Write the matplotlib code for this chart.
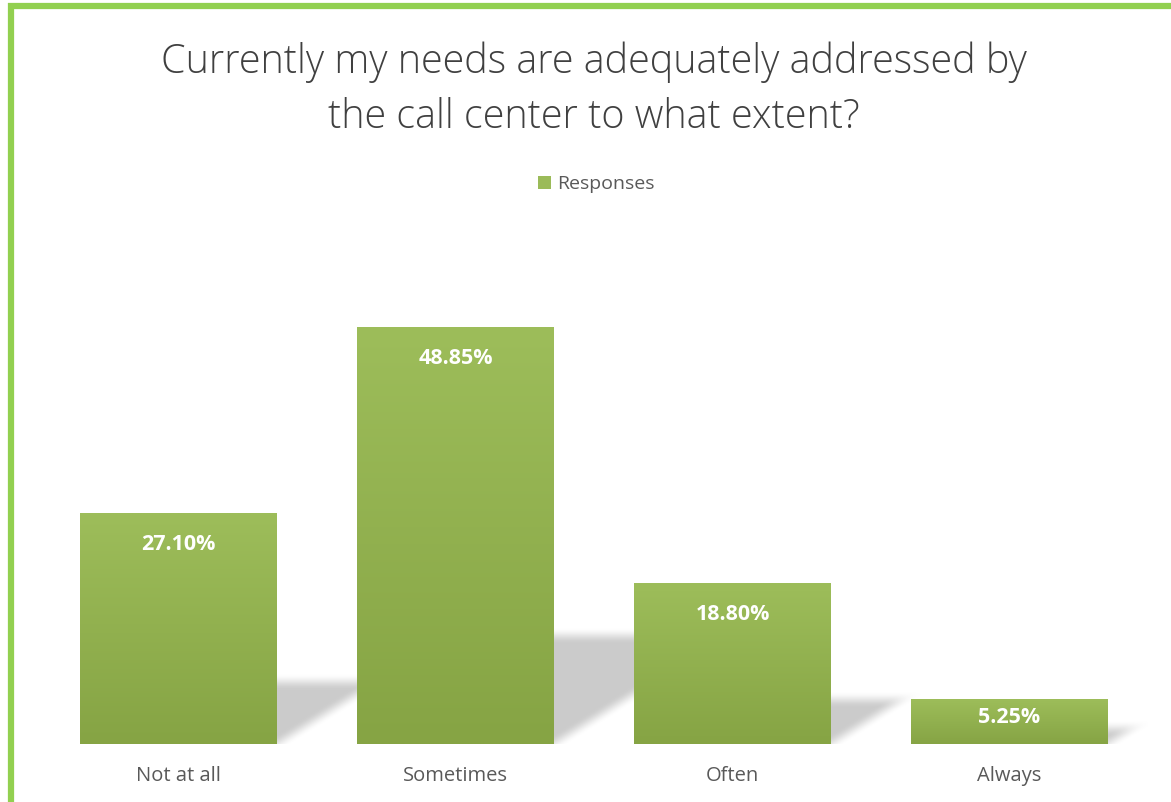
import numpy as np
import matplotlib
matplotlib.use("Agg")
import matplotlib.pyplot as plt
from matplotlib.patches import Rectangle
from matplotlib.lines import Line2D

categories = ["Not at all", "Sometimes", "Often", "Always"]
values = [27.10, 48.85, 18.80, 5.25]
labels = ["27.10%", "48.85%", "18.80%", "5.25%"]
series_name = "Responses"
title_lines = ["Currently my needs are adequately addressed by",
               "the call center to what extent?"]

W, H = 1171, 803
fig = plt.figure(figsize=(W / 100, H / 100), dpi=100)
fig.patch.set_facecolor("white")

# axes placed in pixels
ax_l, ax_r, ax_b = 40, 1148, 745
ymax = 55
px_per_y = 8.516
ax_t = ax_b - ymax * px_per_y
ax = fig.add_axes([ax_l / W, (H - ax_b) / H, (ax_r - ax_l) / W, (ax_b - ax_t) / H])
ax.set_xlim(-0.5, 3.5)
ax.set_ylim(0, ymax)
ax.set_autoscale_on(False)
for s in ax.spines.values():
    s.set_visible(False)
ax.set_yticks([])

bar_w = 197 / 277
px_per_x = 277

# soft perspective shadows behind the bars
nx, ny = ax_r - ax_l, int(round(ax_b - ax_t))
xs = np.linspace(-0.5, 3.5, nx)
ys = np.linspace(0, ymax, ny)
XX, YY = np.meshgrid(xs, ys)
alpha = np.zeros_like(XX)


def smooth(t):
    t = np.clip(t, 0, 1)
    return t * t * (3 - 2 * t)


for i, v in enumerate(values):
    right = i + bar_w / 2
    X = (XX - right) * px_per_x
    Y = YY * px_per_y
    sh = 0.25 * v * px_per_y + 4
    slope = 0.62
    a = smooth((sh - Y) / 16 + 0.5) * smooth((Y - slope * X) / 18 + 0.5)
    a *= (X > -2)
    alpha = np.maximum(alpha, a)

shadow = np.zeros((ny, nx, 4))
shadow[..., :3] = 0.79
shadow[..., 3] = alpha * 0.95
ax.imshow(shadow, extent=[-0.5, 3.5, 0, ymax], origin="lower", aspect="auto",
          zorder=1, interpolation="bilinear")

# gradient bars
top_c = np.array([0x9D, 0xBD, 0x5A]) / 255
bot_c = np.array([0x86, 0xA4, 0x44]) / 255
grad = np.linspace(0, 1, 64)[:, None, None]
grad_img = bot_c * (1 - grad) + top_c * grad
for i, v in enumerate(values):
    ax.imshow(grad_img, extent=[i - bar_w / 2, i + bar_w / 2, 0, v], origin="lower",
              aspect="auto", zorder=2, interpolation="bilinear")
    off = min(30, 0.38 * v * px_per_y)
    ax.annotate(labels[i], (i, v), xytext=(0, -off), textcoords="offset pixels",
                ha="center", va="center", color="white", fontsize=15.5,
                fontweight="bold", family="Open Sans", zorder=3)

ax.set_xticks(range(len(categories)))
ax.set_xticklabels(categories, fontsize=14.5, color="#595959", family="Open Sans")
ax.tick_params(axis="x", length=0, pad=15)

# title and legend
for k, line in enumerate(title_lines):
    fig.text(594 / W, 1 - (62 + 55 * k) / H, line, ha="center", va="center",
             fontsize=28.5, color="#404040", family="Open Sans", fontweight="light")
fig.patches.append(Rectangle((538 / W, 1 - 190 / H), 13 / W, 13 / H,
                             transform=fig.transFigure, facecolor="#9BBB59",
                             edgecolor="none"))
fig.text(557 / W, 1 - 184 / H, series_name, ha="left", va="center", fontsize=14,
         color="#595959", family="Open Sans")

# green frame on left and top
green = "#92D050"
fig.add_artist(Line2D([11 / W, 11 / W], [0, 1 - 4 / H], color=green, lw=4.5,
                      transform=fig.transFigure, solid_capstyle="butt"))
fig.add_artist(Line2D([8 / W, 1], [1 - 7 / H, 1 - 7 / H], color=green, lw=4.5,
                      transform=fig.transFigure, solid_capstyle="butt"))

fig.savefig("out.png", dpi=100)
